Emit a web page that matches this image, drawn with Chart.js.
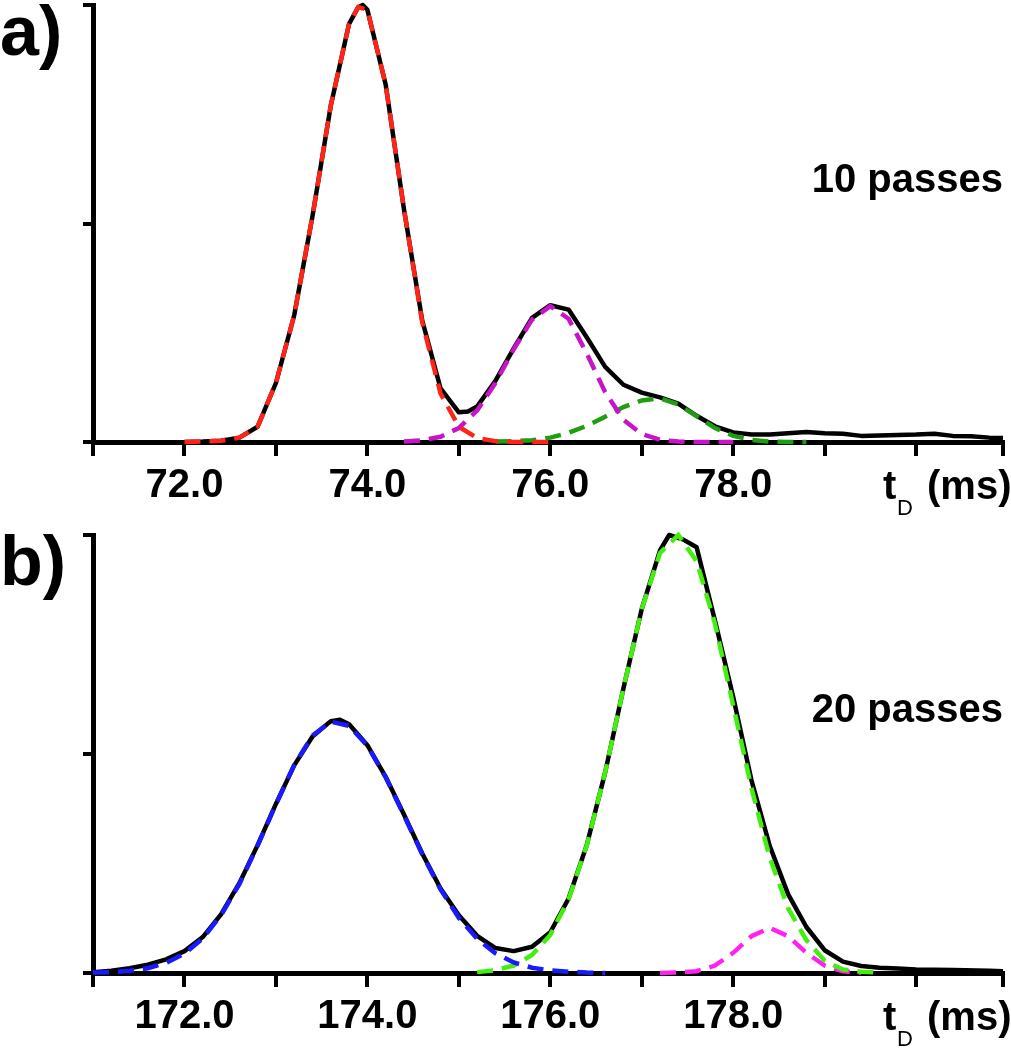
<!DOCTYPE html>
<html lang="en">
<head>
<meta charset="UTF-8">
<title>Arrival time distributions</title>
<style>
  html, body { margin: 0; padding: 0; background: #fff; overflow: hidden; }
  .panel { position: absolute; left: 0; width: 1011px; height: 525px; }
  #wrapA { top: 0; }
  #wrapB { top: 525px; }
</style>
</head>
<body>
<div id="wrapA" class="panel"><canvas id="chartA"></canvas></div>
<div id="wrapB" class="panel"><canvas id="chartB"></canvas></div>

<script src="https://cdn.jsdelivr.net/npm/chart.js@4.4.1/dist/chart.umd.js"></script>
<script>
// ---- panel a: 10 passes ----
const aTotalT = [72.0, 72.2, 72.4, 72.6, 72.8, 73.0, 73.2, 73.4, 73.6, 73.8, 73.9, 73.95, 74.0, 74.2, 74.4, 74.6, 74.8,
  75.0, 75.1, 75.2, 75.4, 75.6, 75.8, 76.0, 76.2, 76.4, 76.6, 76.8, 77.0, 77.2, 77.4, 77.6, 77.8, 78.0, 78.2, 78.4,
  78.6, 78.8, 79.0, 79.2, 79.4, 79.6, 79.8, 80.0, 80.2, 80.4, 80.6, 80.8, 80.95];
const aTotal = [0, 0.001, 0.003, 0.01, 0.035, 0.135, 0.29, 0.517, 0.77, 0.957, 0.995, 1.0, 0.989, 0.818, 0.533, 0.278, 0.123,
  0.068, 0.07, 0.081, 0.14, 0.214, 0.284, 0.313, 0.303, 0.239, 0.172, 0.131, 0.113, 0.102, 0.088, 0.06, 0.036, 0.022, 0.017, 0.017,
  0.02, 0.023, 0.02, 0.019, 0.014, 0.015, 0.016, 0.017, 0.019, 0.014, 0.013, 0.01, 0.009];

const aRedT = [72.0, 72.2, 72.4, 72.6, 72.8, 73.0, 73.2, 73.4, 73.6, 73.8, 73.9, 74.0, 74.2, 74.4, 74.6, 74.8, 75.0, 75.2, 75.4, 75.6, 75.8, 76.0];
const aRed = [0, 0.001, 0.003, 0.01, 0.035, 0.135, 0.29, 0.517, 0.77, 0.957, 0.995, 0.989, 0.818, 0.533, 0.274, 0.111, 0.035, 0.009, 0.002, 0, 0, 0];

const aPinkT = [74.4, 74.6, 74.8, 75.0, 75.2, 75.4, 75.6, 75.8, 76.0, 76.2, 76.4, 76.6, 76.8, 77.0, 77.2, 77.4, 77.6, 77.8, 78.0];
const aPink = [0.001, 0.004, 0.012, 0.032, 0.072, 0.135, 0.212, 0.28, 0.311, 0.282, 0.202, 0.114, 0.051, 0.018, 0.005, 0.001, 0, 0, 0];

const aGreenT = [75.4, 75.6, 75.8, 76.0, 76.2, 76.4, 76.6, 76.8, 77.0, 77.2, 77.4, 77.6, 77.8, 78.0, 78.2, 78.4, 78.6, 78.8];
const aGreen = [0.001, 0.002, 0.004, 0.01, 0.021, 0.037, 0.058, 0.08, 0.095, 0.1, 0.086, 0.059, 0.032, 0.014, 0.005, 0.001, 0, 0];

const aTicks = [71, 72, 73, 74, 75, 76, 77, 78, 79, 80, 80.95];
const aLabelled = [72, 74, 76, 78];

// ---- panel b: 20 passes ----
const bTotalT = [171.0, 171.2, 171.4, 171.6, 171.8, 172.0, 172.2, 172.4, 172.6, 172.8, 173.0, 173.2, 173.4, 173.6, 173.7, 173.8,
  174.0, 174.2, 174.4, 174.6, 174.8, 175.0, 175.2, 175.4, 175.6, 175.8, 176.0, 176.2, 176.4, 176.6, 176.8, 177.0, 177.2,
  177.3, 177.45, 177.6, 177.8, 178.0, 178.2, 178.4, 178.6, 178.8, 179.0, 179.2, 179.4, 179.6, 179.8, 180.0, 180.4, 180.8, 180.95];
const bTotal = [0.002, 0.005, 0.011, 0.019, 0.031, 0.05, 0.082, 0.134, 0.205, 0.292, 0.386, 0.474, 0.54, 0.575, 0.578, 0.568,
  0.52, 0.448, 0.362, 0.273, 0.193, 0.132, 0.085, 0.057, 0.05, 0.06, 0.093, 0.17, 0.293, 0.458, 0.65, 0.831, 0.965,
  1.0, 0.99, 0.972, 0.805, 0.63, 0.44, 0.29, 0.18, 0.105, 0.052, 0.026, 0.016, 0.012, 0.01, 0.008, 0.007, 0.005, 0.004];

const bBlueT = [171.0, 171.2, 171.4, 171.6, 171.8, 172.0, 172.2, 172.4, 172.6, 172.8, 173.0, 173.2, 173.4, 173.6, 173.8,
  174.0, 174.2, 174.4, 174.6, 174.8, 175.0, 175.2, 175.4, 175.6, 175.8, 176.0, 176.2, 176.4, 176.6];
const bBlue = [0.001, 0.002, 0.005, 0.011, 0.023, 0.044, 0.079, 0.132, 0.203, 0.291, 0.385, 0.475, 0.542, 0.574, 0.564,
  0.519, 0.447, 0.36, 0.271, 0.191, 0.126, 0.078, 0.045, 0.024, 0.012, 0.006, 0.003, 0.001, 0];

const bGreenT = [175.2, 175.4, 175.6, 175.8, 176.0, 176.2, 176.4, 176.6, 176.8, 177.0, 177.2, 177.4, 177.6, 177.8,
  178.0, 178.2, 178.4, 178.6, 178.8, 179.0, 179.2, 179.4, 179.6];
const bGreen = [0.002, 0.0065, 0.017, 0.041, 0.087, 0.168, 0.292, 0.458, 0.65, 0.831, 0.959, 1.0, 0.94, 0.798,
  0.611, 0.422, 0.263, 0.148, 0.075, 0.028, 0.008, 0.003, 0.001];

const bPinkT = [177.2, 177.4, 177.6, 177.8, 178.0, 178.2, 178.4, 178.6, 178.8, 179.0, 179.2, 179.4];
const bPink = [0, 0.001, 0.004, 0.017, 0.046, 0.084, 0.103, 0.084, 0.046, 0.017, 0.004, 0.001];

const bTicks = [171, 172, 173, 174, 175, 176, 177, 178, 179, 180, 180.95];
const bLabelled = [172, 174, 176, 178];

const yTicks = [0, 0.5, 1];

// ---------------------------------------------------------------
const FONT = "'Liberation Sans', Arial, sans-serif";

function pts(ts, vs) {
  return ts.map((t, i) => ({ x: t, y: vs[i] }));
}

function dashed(ts, vs, color) {
  return {
    data: pts(ts, vs), borderColor: color, borderWidth: 4.5, borderDash: [16, 9],
    pointRadius: 0, tension: 0, fill: false, clip: false, order: 1
  };
}

function solid(ts, vs) {
  return {
    data: pts(ts, vs), borderColor: '#000', borderWidth: 4.5, borderJoinStyle: 'round',
    pointRadius: 0, tension: 0, fill: false, clip: false, order: 10
  };
}

function textPlugin(letter, passes) {
  return {
    id: 'panelText',
    afterDraw(chart) {
      const ctx = chart.ctx, area = chart.chartArea;
      ctx.save();
      ctx.fillStyle = '#000';
      ctx.textBaseline = 'alphabetic';
      ctx.font = 'bold 70px ' + FONT;
      ctx.textAlign = 'left';
      ctx.fillText(letter, 0, area.top + 50);

      ctx.font = 'bold 40px ' + FONT;
      ctx.textAlign = 'right';
      ctx.fillText(passes, area.right, area.top + 187);

      // axis title t_D (ms)
      const base = area.bottom + 57;
      ctx.textAlign = 'left';
      ctx.fillText('t', 883, base);
      ctx.font = '22px ' + FONT;
      ctx.fillText('D', 897, base + 16);
      ctx.font = 'bold 40px ' + FONT;
      ctx.fillText('(ms)', 927, base);
      ctx.restore();
    }
  };
}

function makePanel(id, datasets, ticks, labelled, padTop, padBottom, letter, passes) {
  return new Chart(document.getElementById(id), {
    type: 'line',
    data: { datasets: datasets },
    options: {
      responsive: true,
      maintainAspectRatio: false,
      animation: false,
      devicePixelRatio: 1,
      layout: { padding: { left: 83, right: 8, top: padTop, bottom: padBottom } },
      plugins: { legend: { display: false }, tooltip: { enabled: false } },
      scales: {
        x: {
          type: 'linear',
          min: ticks[0],
          max: ticks[ticks.length - 1],
          afterBuildTicks: (s) => { s.ticks = ticks.map(v => ({ value: v })); },
          border: { display: true, color: '#000', width: 5 },
          grid: { drawOnChartArea: false, color: '#000', lineWidth: 4, tickLength: 14 },
          ticks: {
            color: '#000', padding: 6, maxRotation: 0, autoSkip: false,
            font: { family: FONT, size: 40, weight: 'bold' },
            callback: (v) => labelled.includes(v) ? v.toFixed(1) : ''
          }
        },
        y: {
          type: 'linear',
          min: 0,
          max: 1,
          afterBuildTicks: (s) => { s.ticks = yTicks.map(v => ({ value: v })); },
          border: { display: true, color: '#000', width: 5 },
          grid: { drawOnChartArea: false, color: '#000', lineWidth: 4, tickLength: 10 },
          ticks: { display: false }
        }
      }
    },
    plugins: [textPlugin(letter, passes)]
  });
}

makePanel('chartA', [
  dashed(aRedT, aRed, '#ff2418'),
  dashed(aPinkT, aPink, '#c814c8'),
  dashed(aGreenT, aGreen, '#1f9e12'),
  solid(aTotalT, aTotal)
], aTicks, aLabelled, 5, 9, 'a)', '10 passes');

makePanel('chartB', [
  dashed(bBlueT, bBlue, '#1a1aff'),
  dashed(bGreenT, bGreen, '#44ee11'),
  dashed(bPinkT, bPink, '#ff22ee'),
  solid(bTotalT, bTotal)
], bTicks, bLabelled, 10, 3, 'b)', '20 passes');
</script>
</body>
</html>
